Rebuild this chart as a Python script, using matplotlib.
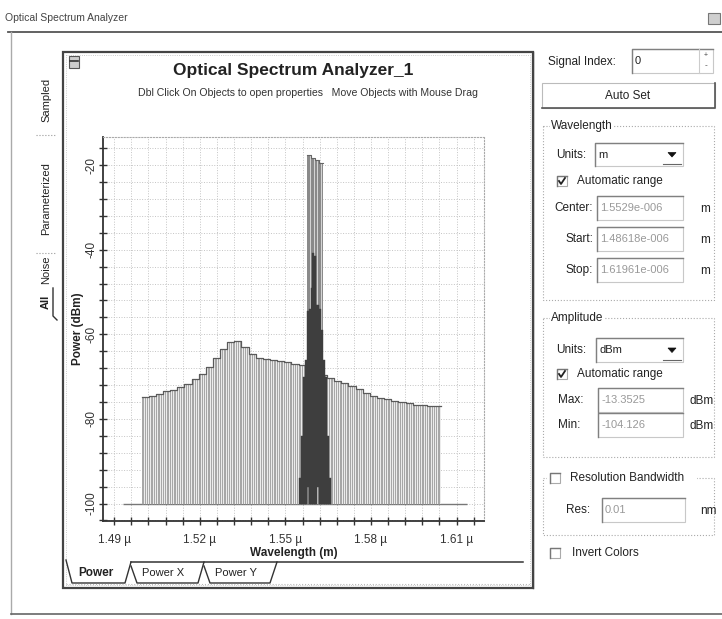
import numpy as np
import matplotlib.pyplot as plt
from matplotlib.patches import Rectangle, Polygon
from matplotlib.ticker import FixedLocator, FuncFormatter

plt.rcParams['font.family'] = ['Liberation Sans', 'DejaVu Sans']

# ---- data (wavelength in micrometres, power in dBm) ----
noise_left = [1.4996, 1.5021, 1.5046, 1.5071, 1.5096, 1.5121, 1.5146, 1.5171, 1.5196, 1.5221,
              1.5246, 1.5271, 1.5296, 1.5321, 1.5346, 1.5371, 1.5396, 1.5421, 1.5446, 1.5471,
              1.5496, 1.5521, 1.5546, 1.5571, 1.5596, 1.5621, 1.5646, 1.5671, 1.5696, 1.5721,
              1.5746, 1.5771, 1.5796, 1.5821, 1.5846, 1.5871, 1.5896, 1.5921, 1.5946, 1.5971,
              1.5996, 1.6021]
noise_power = [-74.8, -74.5, -74.1, -73.5, -73.1, -72.5, -71.8, -70.6, -69.3, -67.8,
               -65.6, -63.4, -61.9, -61.6, -62.9, -64.6, -65.5, -65.8, -66.0, -66.2,
               -66.5, -66.9, -67.3, -67.9, -68.6, -69.5, -70.4, -71.0, -71.6, -72.3,
               -73.0, -73.8, -74.6, -75.1, -75.4, -75.7, -76.0, -76.3, -76.6, -76.8,
               -76.9, -77.0]
noise_bin = 0.0025

tall_wl = [1.55814, 1.55959, 1.56104, 1.56249]
tall_power = [-17.5, -18.2, -18.8, -19.4]
tall_bin = 0.00145

sig_wl = [1.55525, 1.55595, 1.55665, 1.55735, 1.55805, 1.55875, 1.55928, 1.55980, 1.56033,
          1.56085, 1.56155, 1.56225, 1.56296, 1.56366, 1.56436, 1.56506, 1.56576]
sig_top = [-94, -84, -70, -66, -54.6, -54, -49, -40.7, -41.5, -53, -53, -54, -58.9, -66, -70, -84, -94]
sig_bottom = [-100, -100, -100, -100, -96, -100, -100, -100, -100, -100, -96, -100, -100, -100, -100, -100, -100]

base_start, base_stop, base_level = 1.4932, 1.6136, -100
wl_start, wl_stop = 1.48618, 1.61961
p_min, p_max = -104.126, -13.3525
x_ticks = [1.49, 1.52, 1.55, 1.58, 1.61]
y_ticks = [-20, -40, -60, -80, -100]

W, H = 722, 619
fig = plt.figure(figsize=(W / 100, H / 100), dpi=100)
fig.patch.set_facecolor('white')

# ---- window / dialog decoration in pixel coordinates ----
ui = fig.add_axes([0, 0, 1, 1])
ui.axis('off')
ui.set_autoscale_on(False)
ui.set_xlim(0, W)
ui.set_ylim(H, 0)

txt = '#222222'
ui.text(5, 18, 'Optical Spectrum Analyzer', fontsize=7.5, color='#444444', va='center')
ui.add_patch(Rectangle((708, 13), 12, 11, fc='#cfcfcf', ec='#777777', lw=0.8))
ui.plot([8, 722], [32, 32], color='#555555', lw=1.3)
ui.plot([11, 11], [32, 614], color='#aaaaaa', lw=1)
ui.plot([11, 722], [614, 614], color='#666666', lw=1.2)

# chart frame
ui.add_patch(Rectangle((63, 52), 470, 536, fc='none', ec='#444444', lw=1.6))
ui.add_patch(Rectangle((66, 55), 464, 530, fc='none', ec='#bbbbbb', lw=0.6, ls=':'))
ui.add_patch(Rectangle((69, 56), 10, 12, fc='#cccccc', ec='#555555', lw=0.8))
ui.plot([70, 78], [61, 61], color='#333333', lw=1.2)
ui.text(293, 70, 'Optical Spectrum Analyzer_1', fontsize=12.5, weight='bold',
        color=txt, ha='center', va='center')
ui.text(308, 93, 'Dbl Click On Objects to open properties   Move Objects with Mouse Drag',
        fontsize=7.6, color='#333333', ha='center', va='center')

# left vertical tabs
for label, yc, bold in [('Sampled', 100, False), ('Parameterized', 199, False),
                        ('Noise', 270, False), ('All', 302, True)]:
    ui.text(46, yc, label, rotation=90, fontsize=8, color=txt, ha='center', va='center',
            weight='bold' if bold else 'normal')
for ys in [135, 253]:
    ui.plot([36, 56], [ys, ys], color='#999999', lw=0.8, ls=':')
ui.plot([53, 53, 57], [288, 316, 320], color='#333333', lw=1)

# bottom tabs
ui.plot([131, 523], [562, 562], color='#333333', lw=1.1)
ui.plot([66, 72, 125, 131], [560, 583, 583, 562], color='#333333', lw=1)
ui.plot([131, 137, 198, 204], [566, 583, 583, 562], color='#333333', lw=1)
ui.plot([204, 210, 270, 277], [566, 583, 583, 562], color='#333333', lw=1)
ui.plot([66, 530], [584, 584], color='#bbbbbb', lw=0.8, ls=':')
ui.text(78, 573, 'Power', fontsize=8.5, weight='bold', color=txt, va='center')
ui.text(142, 573, 'Power X', fontsize=8, color=txt, va='center')
ui.text(215, 573, 'Power Y', fontsize=8, color=txt, va='center')

# right panel widgets
fs = 8


def textbox(x0, y0, x1, y1, text=None, color='#999999'):
    ui.add_patch(Rectangle((x0, y0), x1 - x0, y1 - y0, fc='white', ec='#c8c8c8', lw=0.8))
    ui.plot([x0, x0, x1], [y1, y0, y0], color='#808080', lw=1)
    if text is not None:
        ui.text(x0 + 3, (y0 + y1) / 2, text, color=color, fontsize=fs, va='center')


def checkbox(x, y, checked):
    ui.add_patch(Rectangle((x - 5, y - 5), 10, 10, fc='white', ec='#aaaaaa', lw=0.8))
    ui.plot([x - 5, x - 5, x + 5], [y + 5, y - 5, y - 5], color='#777777', lw=1)
    if checked:
        ui.plot([x - 3, x - 1, x + 3], [y, y + 3, y - 3], color='#222222', lw=1.3)


def combo(x0, y0, x1, y1, text):
    textbox(x0, y0, x1, y1, text, color=txt)
    xc, yc = x1 - 11, (y0 + y1) / 2
    ui.add_patch(Polygon([(xc - 4, yc - 2), (xc + 4, yc - 2), (xc, yc + 2.5)], closed=True,
                         fc='#111111', ec='#111111', lw=0.5))
    ui.plot([x1 - 20, x1 - 2], [y1 - 2, y1 - 2], color='#666666', lw=0.8)


def group(x0, y0, x1, y1, title, tx):
    ui.add_patch(Rectangle((x0, y0), x1 - x0, y1 - y0, fc='none', ec='#aaaaaa', lw=0.8, ls=':'))
    ui.text(tx, y0, title, fontsize=fs + 0.5, color=txt, va='center',
            bbox=dict(fc='white', ec='none', pad=1))


ui.plot([533, 533], [52, 588], color='#444444', lw=1)
ui.text(548, 62, 'Signal Index:', fontsize=fs + 0.5, color=txt, va='center')
textbox(632, 49, 713, 73, '0', color=txt)
ui.plot([699, 699], [49, 73], color='#cccccc', lw=0.8)
ui.text(706, 56, '+', fontsize=5, ha='center', va='center', color='#444444')
ui.text(706, 66, '-', fontsize=6, ha='center', va='center', color='#444444')

ui.add_patch(Rectangle((542, 83), 173, 25, fc='white', ec='#bbbbbb', lw=0.8))
ui.plot([542, 715, 715], [108, 108, 83], color='#555555', lw=1.2)
ui.text(628, 96, 'Auto Set', fontsize=fs + 0.5, color=txt, ha='center', va='center')

group(543, 126, 714, 300, 'Wavelength', 551)
ui.text(556, 155, 'Units:', fontsize=fs + 0.5, color=txt, va='center')
combo(595, 143, 683, 166, 'm')
checkbox(562, 181, True)
ui.text(577, 181, 'Automatic range', fontsize=fs + 0.5, color=txt, va='center')
for lab, y, val in [('Center:', 208, '1.5529e-006'), ('Start:', 239, '1.48618e-006'),
                    ('Stop:', 270, '1.61961e-006')]:
    ui.text(593, y, lab, fontsize=fs + 0.5, color=txt, ha='right', va='center')
    textbox(597, y - 12, 683, y + 12, val)
    ui.text(700, y + 1, 'm', fontsize=fs + 0.5, color=txt, va='center')

group(543, 318, 714, 457, 'Amplitude', 551)
ui.text(556, 350, 'Units:', fontsize=fs + 0.5, color=txt, va='center')
combo(596, 338, 683, 362, 'dBm')
checkbox(562, 374, True)
ui.text(577, 374, 'Automatic range', fontsize=fs + 0.5, color=txt, va='center')
for lab, y, val in [('Max:', 400, '-13.3525'), ('Min:', 425, '-104.126')]:
    ui.text(558, y, lab, fontsize=fs + 0.5, color=txt, va='center')
    textbox(598, y - 12, 683, y + 12, val)
    ui.text(690, y + 1, 'dBm', fontsize=fs + 0.5, color=txt, va='center')

group(543, 478, 714, 535, '', 551)
ui.add_patch(Rectangle((547, 471), 150, 14, fc='white', ec='none'))
checkbox(555, 478, False)
ui.text(570, 478, 'Resolution Bandwidth', fontsize=fs + 0.5, color=txt, va='center')
ui.text(566, 510, 'Res:', fontsize=fs + 0.5, color=txt, va='center')
textbox(602, 498, 685, 522, '0.01')
ui.text(700, 511, 'nm', fontsize=fs + 0.5, color=txt, va='center')
checkbox(555, 553, False)
ui.text(572, 553, 'Invert Colors', fontsize=fs + 0.5, color=txt, va='center')

# ---- the spectrum plot ----
ax = fig.add_axes([103.3 / W, 1 - 521 / H, 380.7 / W, 384 / H])
ax.set_xlim(wl_start, wl_stop)
ax.set_ylim(p_min, p_max)


def striped_bars(left, top, width, n_lines, face, line_col, lw, z):
    left = np.asarray(left)
    top = np.asarray(top)
    ax.bar(left, top - base_level, bottom=base_level, width=width, align='edge',
           color=face, lw=0, zorder=z)
    frac = np.arange(n_lines) / n_lines
    xs = (left[:, None] + frac[None, :] * width).ravel()
    ax.vlines(xs, base_level, np.repeat(top, n_lines), color=line_col, lw=lw, zorder=z + 0.1)


ax.hlines(base_level, base_start, base_stop, color='#777777', lw=1, zorder=2)
striped_bars(noise_left, noise_power, noise_bin, 4, '#ececec', '#9a9a9a', 0.6, 3)
ax.step(np.r_[noise_left, noise_left[-1] + noise_bin], np.r_[noise_power, noise_power[-1]],
        where='post', color='#5a5a5a', lw=0.9, zorder=4)
striped_bars(np.asarray(tall_wl) - tall_bin / 2, tall_power, tall_bin, 3, '#d4d4d4',
             '#888888', 0.7, 5)
ax.step(np.r_[np.asarray(tall_wl) - tall_bin / 2, tall_wl[-1] + tall_bin / 2],
        np.r_[tall_power, tall_power[-1]], where='post', color='#666666', lw=0.8, zorder=5.5)
ax.bar(sig_wl, np.array(sig_top) - np.array(sig_bottom), bottom=sig_bottom, width=0.0007,
       color='#3e3e3e', edgecolor='#3e3e3e', lw=0.3, zorder=6)

ax.xaxis.set_major_locator(FixedLocator(x_ticks))
ax.xaxis.set_minor_locator(FixedLocator(np.arange(1.49, 1.62, 0.006)))
ax.yaxis.set_major_locator(FixedLocator(y_ticks))
ax.yaxis.set_minor_locator(FixedLocator(np.arange(-104, -13, 4)))
ax.xaxis.set_major_formatter(FuncFormatter(lambda v, p: f'{v:.2f} \u00b5'))
ax.yaxis.set_major_formatter(FuncFormatter(lambda v, p: f'{v:.0f}'))
ax.grid(which='both', color='#c4c4c4', ls=':', lw=0.7, zorder=0)
ax.set_axisbelow(True)

ax.tick_params(which='both', direction='inout', length=6, width=1, color='#333333',
               labelsize=8.5, labelcolor='#333333')
ax.tick_params(axis='x', pad=6)
ax.tick_params(axis='y', labelrotation=90, pad=1)
for lab in ax.get_yticklabels():
    lab.set_va('center')

for side in ['left', 'bottom']:
    ax.spines[side].set_color('#333333')
    ax.spines[side].set_linewidth(1.3)
for side in ['top', 'right']:
    ax.spines[side].set_color('#aaaaaa')
    ax.spines[side].set_linestyle(':')
    ax.spines[side].set_linewidth(0.8)

ax.set_xlabel('Wavelength (m)', fontsize=8.5, weight='bold', color=txt, labelpad=1)
ax.set_ylabel('Power (dBm)', fontsize=8.5, weight='bold', color=txt, labelpad=1)

fig.savefig('out.png', dpi=100)
